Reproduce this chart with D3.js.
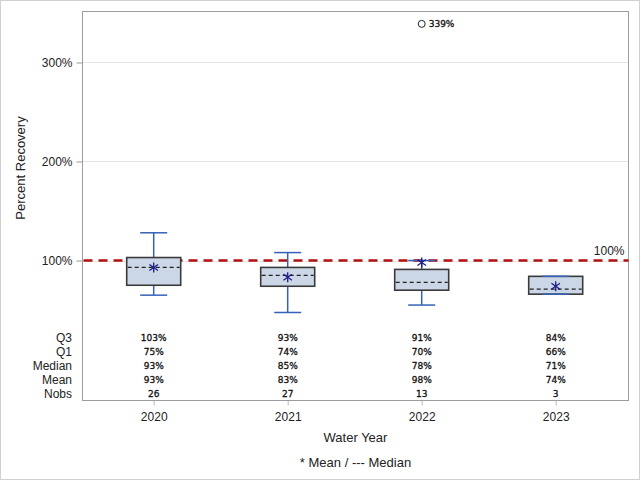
<!DOCTYPE html>
<html><head><meta charset="utf-8">
<script src="https://cdn.jsdelivr.net/npm/d3@7"></script>
<style>body{margin:0;background:#fff}svg{display:block;font-family:"Liberation Sans",Arial,sans-serif}</style>
</head><body><svg id="c" width="640" height="480"></svg>
<script>
const years = ["2020","2021","2022","2023"];
const whiskerHigh = [128,108,100,84];
const q3 = [103,93,91,84];
const median = [93,85,78,71];
const q1 = [75,74,70,66];
const whiskerLow = [65,47.5,55,66];
const mean = [93,83,98,74];
const nobs = [26,27,13,3];
const outliers = [{year:"2022", value:339}];
const yTicks = [100,200,300];
const refValue = 100;
const statRows = ["Q3","Q1","Median","Mean","Nobs"];

const svg = d3.select("#c");
const L=82.5, R=628.5, T=11.5, B=400.5;
svg.append("rect").attr("x",0.5).attr("y",0.5).attr("width",639).attr("height",479).attr("fill","none").attr("stroke","#d0d0d0");

const y = d3.scaleLinear().domain([-41.4,351.5]).range([B,T]);
const x = d3.scalePoint().domain(years).range([153.7,555.7]);
const boxW = 54, capW = 27;

// gridlines
svg.append("g").selectAll("line").data(yTicks).join("line")
  .attr("x1",L).attr("x2",R).attr("y1",d=>Math.round(y(d))+0.5).attr("y2",d=>Math.round(y(d))+0.5)
  .attr("stroke","#e4e4e4").attr("stroke-width",1);

// axes
const yAxis = d3.axisLeft(y).tickValues(yTicks).tickFormat(d=>d+"%").tickSize(6).tickSizeOuter(0);
const ga = svg.append("g").attr("transform",`translate(${L},0)`).call(yAxis);
ga.select(".domain").remove();
ga.selectAll(".tick line").attr("stroke","#999");
ga.selectAll(".tick text").attr("font-size",12).attr("fill","#222").attr("font-family","Liberation Sans, Arial, sans-serif").attr("dx","-1");
const xAxis = d3.axisBottom(x).tickSize(5).tickSizeOuter(0);
const gx = svg.append("g").attr("transform",`translate(0,${B})`).call(xAxis);
gx.select(".domain").remove();
gx.selectAll(".tick line").attr("stroke","#bbb");
gx.selectAll(".tick text").attr("font-size",12).attr("fill","#222").attr("font-family","Liberation Sans, Arial, sans-serif").attr("dy","1.05em");

// frame
svg.append("rect").attr("x",L).attr("y",T).attr("width",R-L).attr("height",B-T).attr("fill","none").attr("stroke","#9a9ea4").attr("stroke-width",1);

// reference line
svg.append("line").attr("x1",L+1).attr("x2",R).attr("y1",y(refValue)).attr("y2",y(refValue))
  .attr("stroke","#b01010").attr("stroke-width",2.5).attr("stroke-dasharray","9,6");
svg.append("text").attr("x",R-4).attr("y",y(refValue)-6).attr("text-anchor","end").attr("font-size",12).attr("fill","#222").text(refValue+"%");

const idx = years.map((d,i)=>i);
const g = svg.append("g");
// whiskers
const wc="#3462b8";
g.selectAll(".wu").data(idx).join("line").attr("x1",i=>x(years[i])).attr("x2",i=>x(years[i]))
  .attr("y1",i=>y(q3[i])).attr("y2",i=>y(whiskerHigh[i])).attr("stroke",wc).attr("stroke-width",1.5);
g.selectAll(".wl").data(idx).join("line").attr("x1",i=>x(years[i])).attr("x2",i=>x(years[i]))
  .attr("y1",i=>y(q1[i])).attr("y2",i=>y(whiskerLow[i])).attr("stroke",wc).attr("stroke-width",1.5);
// boxes
g.selectAll(".bx").data(idx).join("rect").attr("x",i=>x(years[i])-boxW/2).attr("width",boxW)
  .attr("y",i=>y(q3[i])).attr("height",i=>y(q1[i])-y(q3[i]))
  .attr("fill","#cbd7e6").attr("stroke","#3a3a3a").attr("stroke-width",1.6);
// caps
g.selectAll(".cu").data(idx).join("line").attr("x1",i=>x(years[i])-capW/2).attr("x2",i=>x(years[i])+capW/2)
  .attr("y1",i=>y(whiskerHigh[i])).attr("y2",i=>y(whiskerHigh[i])).attr("stroke",wc).attr("stroke-width",1.5);
g.selectAll(".cl").data(idx).join("line").attr("x1",i=>x(years[i])-capW/2).attr("x2",i=>x(years[i])+capW/2)
  .attr("y1",i=>y(whiskerLow[i])).attr("y2",i=>y(whiskerLow[i])).attr("stroke",wc).attr("stroke-width",1.5);
// median
g.selectAll(".md").data(idx).join("line").attr("x1",i=>x(years[i])-boxW/2+1).attr("x2",i=>x(years[i])+boxW/2-1)
  .attr("y1",i=>y(median[i])).attr("y2",i=>y(median[i])).attr("stroke","#222").attr("stroke-width",1.2).attr("stroke-dasharray","4,3");
// mean asterisk
g.selectAll(".mn").data(idx).join("g").attr("transform",i=>`translate(${x(years[i])},${y(mean[i])})`)
  .each(function(){
    const s=d3.select(this);
    const r=5;
    [[-r*0.85,-r*0.6,r*0.85,r*0.6],[-r*0.85,r*0.6,r*0.85,-r*0.6],[0,-r,0,r]].forEach(l=>{
      s.append("line").attr("x1",l[0]).attr("y1",l[1]).attr("x2",l[2]).attr("y2",l[3]).attr("stroke","#1c1c8c").attr("stroke-width",1.3);
    });
  });
// outliers
g.selectAll(".ol").data(outliers).join("circle").attr("cx",d=>x(d.year)).attr("cy",d=>y(d.value)).attr("r",3.5)
  .attr("fill","none").attr("stroke","#222").attr("stroke-width",1);
g.selectAll(".olt").data(outliers).join("text").attr("x",d=>x(d.year)+7).attr("y",d=>y(d.value)).attr("dy","0.36em")
  .attr("font-size",9).attr("font-family","DejaVu Sans, sans-serif").attr("fill","#111").attr("stroke","#111").attr("stroke-width",0.3).text(d=>d.value+"%");

// stats table
const rowY = d3.scalePoint().domain(statRows).range([337.5,393.5]);
const statVals = {Q3:q3.map(v=>v+"%"),Q1:q1.map(v=>v+"%"),Median:median.map(v=>v+"%"),Mean:mean.map(v=>v+"%"),Nobs:nobs.map(String)};
svg.append("g").selectAll("text").data(statRows).join("text").attr("x",72).attr("y",d=>rowY(d)).attr("dy","0.36em")
  .attr("text-anchor","end").attr("font-size",12).attr("fill","#222").text(d=>d);
statRows.forEach(r=>{
  svg.append("g").selectAll("text").data(idx).join("text").attr("x",i=>x(years[i])).attr("y",rowY(r)).attr("dy","0.36em")
    .attr("text-anchor","middle").attr("font-size",9).attr("font-family","DejaVu Sans, sans-serif").attr("fill","#111").attr("stroke","#111").attr("stroke-width",0.3).text(i=>statVals[r][i]);
});

// titles
svg.append("text").attr("x",(L+R)/2).attr("y",437).attr("dy","0.36em").attr("text-anchor","middle").attr("font-size",13).attr("fill","#222").text("Water Year");
svg.append("text").attr("x",(L+R)/2).attr("y",462).attr("dy","0.36em").attr("text-anchor","middle").attr("font-size",13).attr("fill","#222").text("* Mean / --- Median");
svg.append("text").attr("transform","translate(20,168) rotate(-90)").attr("dy","0.36em").attr("text-anchor","middle").attr("font-size",13).attr("fill","#222").text("Percent Recovery");
</script></body></html>
